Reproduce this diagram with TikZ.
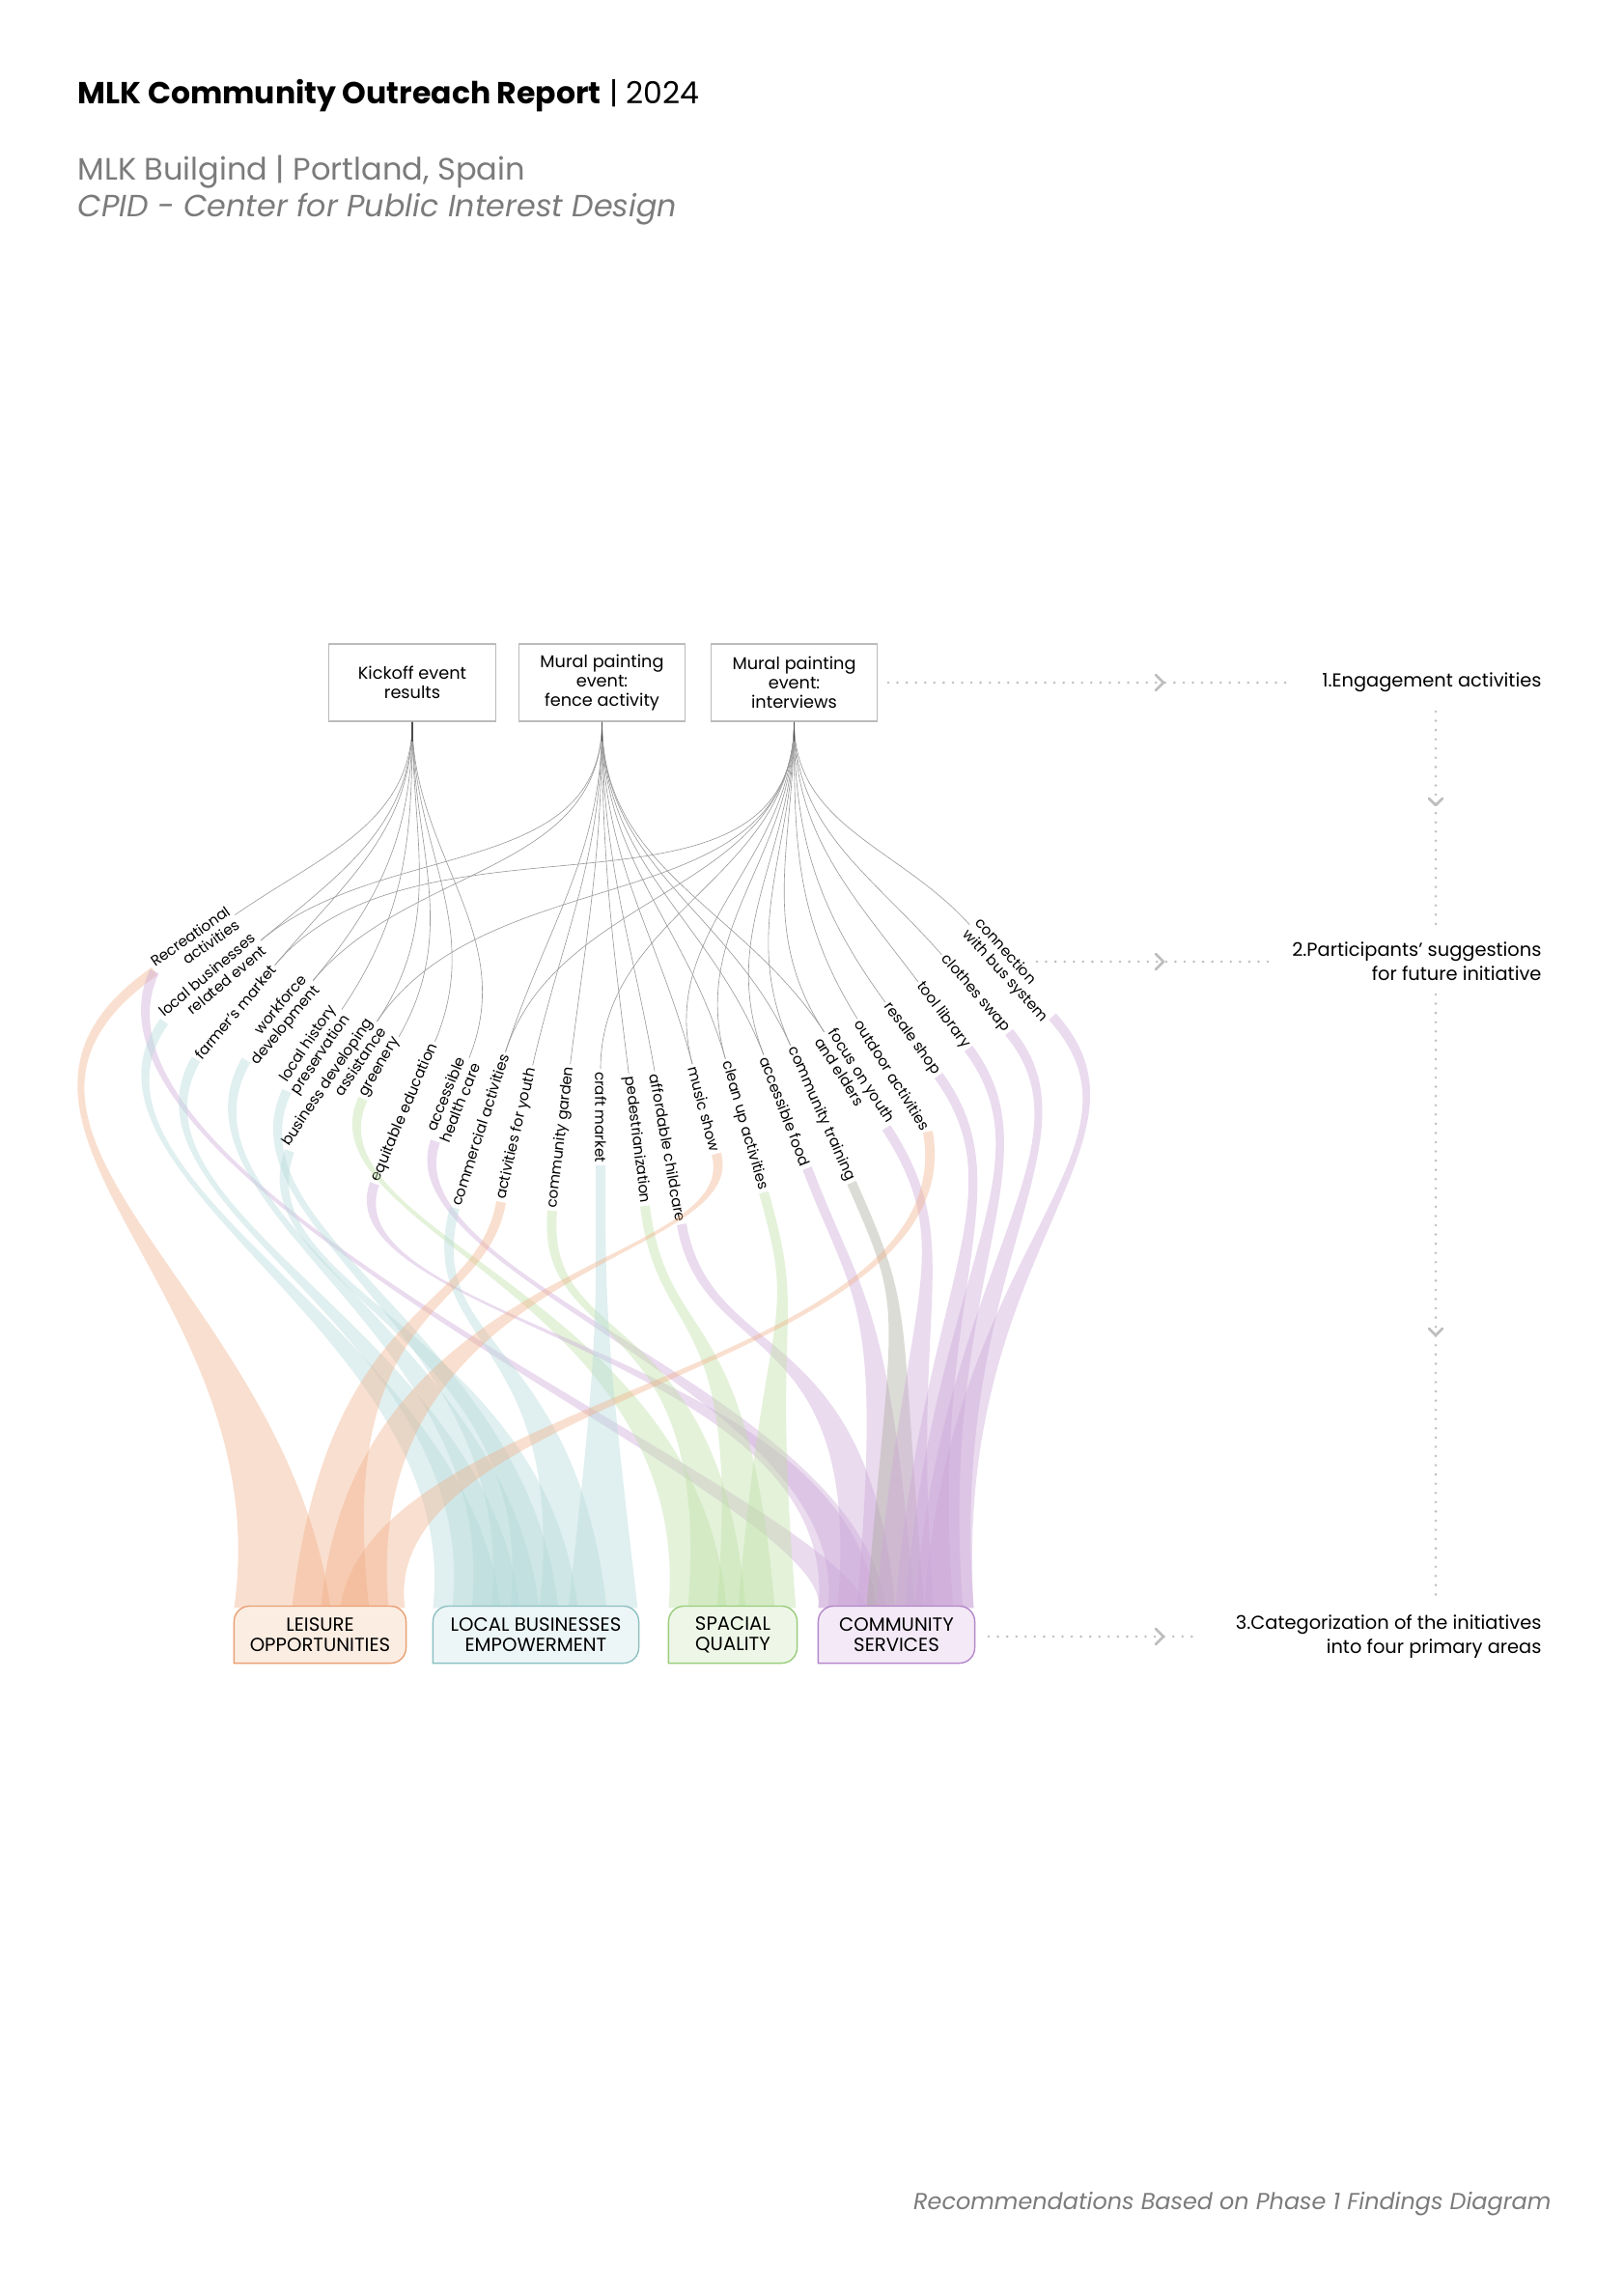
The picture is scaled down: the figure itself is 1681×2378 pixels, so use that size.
\documentclass[tikz,border=0pt]{standalone}
\usepackage{fontspec}
\setmainfont{Poppins}
\newfontfamily\dfont{Poppins}
\usetikzlibrary{calc}

\definecolor{cOr}{HTML}{F2AF87}
\definecolor{cTe}{HTML}{B3D9D9}
\definecolor{cGr}{HTML}{BDE0A3}
\definecolor{cPu}{HTML}{CBA6D8}
\definecolor{cGy}{HTML}{A9A99A}
\definecolor{bOr}{HTML}{E9A074}
\definecolor{bTe}{HTML}{8EC0C3}
\definecolor{bGr}{HTML}{9ACD7C}
\definecolor{bPu}{HTML}{B487C8}
\definecolor{fOr}{HTML}{FCEDE2}
\definecolor{fTe}{HTML}{EDF6F6}
\definecolor{fGr}{HTML}{EEF7E7}
\definecolor{fPu}{HTML}{F4EAF7}
\definecolor{dotgray}{HTML}{BEBEBE}
\definecolor{chevgray}{HTML}{BDBDBD}
\definecolor{linegray}{HTML}{9A9A9A}
\definecolor{boxgray}{HTML}{BBBBBB}
\definecolor{txtgray}{HTML}{7B7B7B}

\newcommand{\evfont}{\dfont\fontsize{6.3pt}{7.2pt}\selectfont}
\newcommand{\lblfont}{\dfont\fontsize{5.4pt}{6.1pt}\selectfont}
\newcommand{\catfont}{\dfont\fontsize{7pt}{7.4pt}\selectfont}
\newcommand{\stepfont}{\dfont\fontsize{6.9pt}{8.9pt}\selectfont}

% band: colour, start anchor, direction, L1, box node, slot a, slot b, L2
\newcommand{\band}[8]{%
 \fill[#1,fill opacity=0.4]
 ($(#2)+(#3-90:5)$)
 .. controls ($(#2)+(#3-90:5)+(#3:#4)$) and ($(#5.north west)+({(#6+#7)/2-3},#8)$) .. ($(#5.north west)+(#6,-2)$)
 -- ($(#5.north west)+(#7,-2)$)
 .. controls ($(#5.north west)+({(#6+#7)/2+3},#8)$) and ($(#2)+(#3+90:5)+(#3:#4)$) .. ($(#2)+(#3+90:5)$) -- cycle;}

\tikzset{
 evbox/.style={draw=boxgray, line width=0.4pt, minimum width=21.6mm, minimum height=10mm, align=center, font=\evfont, inner sep=0pt},
 lblL/.style={anchor=west, align=right, font=\lblfont, inner sep=0.3mm},
 lblR/.style={anchor=east, align=left, font=\lblfont, inner sep=0.3mm},
 fine/.style={draw=linegray, line width=0.22pt},
 stem/.style={draw=black!70, line width=0.4pt},
 dotline/.style={draw=dotgray, line width=1.0pt, dash pattern=on 0pt off 3.4pt, line cap=round},
 chev/.style={draw=chevgray, line width=0.9pt, line cap=round, line join=round},
 catshape/.style={minimum height=7.25mm, inner sep=0pt},
 cattext/.style={align=center, font=\catfont, inner sep=0pt},
 steptext/.style={align=right, font=\stepfont, anchor=east, inner sep=0pt},
}

\begin{document}
\begin{tikzpicture}[x=0.125mm, y=0.125mm]
\useasboundingbox (0,0) rectangle (1681,-2378);
\fill[white] (0,0) rectangle (1681,-2378);

% header
\node[anchor=west, inner sep=0pt] (title) at (80,-99) {\fontsize{11.2pt}{13pt}\selectfont\textbf{MLK Community Outreach Report} | 2024};
\node[anchor=west, inner sep=0pt, text=txtgray] (sub1) at (80,-178) {\fontsize{11.4pt}{13pt}\selectfont MLK Builgind | Portland, Spain};
\node[anchor=west, inner sep=0pt, text=txtgray] (sub2) at (80,-217) {\fontsize{11.3pt}{13pt}\selectfont\itshape CPID - Center for Public Interest Design};
\node[anchor=east, inner sep=0pt, text=txtgray] (foot) at (1607,-2283) {\fontsize{8.5pt}{10pt}\selectfont\itshape Recommendations Based on Phase 1 Findings Diagram};

% category boxes (shapes)
\node[catshape, minimum width=22.125mm] (cL) at (331.5,-1693) {};
\node[catshape, minimum width=26.5mm] (cB) at (555,-1693) {};
\node[catshape, minimum width=16.5mm] (cS) at (759,-1693) {};
\node[catshape, minimum width=20.125mm] (cC) at (928.5,-1693) {};

% labels
\node[lblL,rotate=35] (l1) at (160,-1006) {Recreational\\activities};
\node[lblL,rotate=40] (l2) at (170,-1058) {local businesses\\related event};
\node[lblL,rotate=50] (l3) at (203,-1097) {farmer’s market};
\node[lblL,rotate=50] (l4) at (255,-1098) {workforce\\development};
\node[lblL,rotate=56] (l5) at (297,-1130) {local history\\preservation};
\node[lblL,rotate=56] (l6) at (300,-1192) {business developing\\assistance};
\node[lblL,rotate=60] (l7) at (376,-1138) {greenery};
\node[lblL,rotate=67] (l8) at (388,-1226) {equitable education};
\node[lblL,rotate=68] (l9) at (451,-1182) {accessible\\health care};
\node[lblL,rotate=72] (l10) at (471,-1251) {commercial activities};
\node[lblL,rotate=77] (l11) at (519,-1245) {activities for youth};
\node[lblL,rotate=83] (l12) at (572,-1254) {community garden};
\node[lblR,rotate=-90] (l13) at (622,-1207) {craft market};
\node[lblR,rotate=-83] (l14) at (668,-1249) {pedestrianization};
\node[lblR,rotate=-80] (l15) at (706,-1268) {affordable childcare};
\node[lblR,rotate=-75] (l16) at (742,-1195) {music show};
\node[lblR,rotate=-74] (l17) at (791,-1235) {clean up activities};
\node[lblR,rotate=-69] (l18) at (836,-1210) {accessible food};
\node[lblR,rotate=-66] (l19) at (882,-1225) {community training};
\node[lblR,rotate=-57] (l20) at (918,-1168) {focus on youth\\and elders};
\node[lblR,rotate=-58] (l21) at (961,-1172) {outdoor activities};
\node[lblR,rotate=-54] (l22) at (972,-1114) {resale shop};
\node[lblR,rotate=-53] (l23) at (1003,-1086) {tool library};
\node[lblR,rotate=-49] (l24) at (1045,-1069) {clothes swap};
\node[lblR,rotate=-48] (l25) at (1090,-1053) {connection\\with bus system};

% bands
\band{cOr}{l1.west}{215}{280}{cL}{0}{100}{330}
\band{cPu}{l1.west}{245}{250}{cC}{0}{50}{110}
\band{cTe}{l2.west}{235}{200}{cB}{0}{70}{280}
\band{cTe}{l3.west}{240}{180}{cB}{20}{90}{280}
\band{cTe}{l4.west}{240}{180}{cB}{40}{110}{280}
\band{cTe}{l5.west}{245}{160}{cB}{60}{130}{280}
\band{cTe}{l6.west}{250}{150}{cB}{80}{150}{280}
\band{cGr}{l7.west}{245}{150}{cS}{0}{60}{320}
\band{cPu}{l8.west}{250}{150}{cC}{0}{60}{260}
\band{cPu}{l9.west}{250}{150}{cC}{10}{70}{220}
\band{cTe}{l10.west}{255}{150}{cB}{110}{180}{280}
\band{cOr}{l11.west}{260}{120}{cL}{60}{140}{320}
\band{cGr}{l12.west}{265}{150}{cS}{20}{80}{320}
\band{cTe}{l13.east}{-90}{150}{cB}{140}{212}{280}
\band{cGr}{l14.east}{-83}{150}{cS}{50}{110}{320}
\band{cPu}{l15.east}{-80}{150}{cC}{20}{80}{300}
\band{cOr}{l16.east}{-75}{120}{cL}{90}{160}{360}
\band{cGr}{l17.east}{-74}{150}{cS}{72}{132}{320}
\band{cPu}{l18.east}{-69}{150}{cC}{40}{100}{320}
\band{cGy}{l19.east}{-66}{150}{cC}{50}{110}{320}
\band{cPu}{l20.east}{-57}{150}{cC}{60}{120}{320}
\band{cOr}{l21.east}{-80}{250}{cL}{110}{177}{220}
\band{cPu}{l22.east}{-54}{150}{cC}{80}{140}{330}
\band{cPu}{l23.east}{-53}{150}{cC}{90}{150}{340}
\band{cPu}{l24.east}{-50}{150}{cC}{100}{161}{350}
\band{cPu}{l25.east}{-48}{180}{cC}{110}{161}{370}

% category boxes outline and text
\foreach \c/\f/\d in {cL/fOr/bOr, cB/fTe/bTe, cS/fGr/bGr, cC/fPu/bPu}
  \filldraw[fill=\f, draw=\d, line width=0.5pt] (\c.south west) [rounded corners=2mm] |- (\c.north) -| (\c.south east) [sharp corners] -- cycle;
\node[cattext] (cLt) at (cL) {LEISURE\\OPPORTUNITIES};
\node[cattext] (cBt) at (cB) {LOCAL BUSINESSES\\EMPOWERMENT};
\node[cattext] (cSt) at (cS) {SPACIAL\\QUALITY};
\node[cattext] (cCt) at (cC) {COMMUNITY\\SERVICES};

% event boxes
\node[evbox] (k1) at (427,-707) {Kickoff event\\results};
\node[evbox] (k2) at (623.5,-707) {Mural painting\\event:\\fence activity};
\node[evbox] (k3) at (822.5,-707) {Mural painting\\event:\\interviews};

% thin connectors
\foreach \n/\a in {1/35,2/40,3/50,4/50,5/56,6/56,7/60,8/67,9/68}
  \draw[fine] (k1.south) to[out=-90,in=\a] (l\n.east);
\foreach \n/\a in {2/40,4/50,10/72,11/77,12/83}
  \draw[fine] (k2.south) to[out=-90,in=\a] (l\n.east);
\foreach \n/\a in {14/97,15/100,16/105,17/106,18/111,19/114,20/123}
  \draw[fine] (k2.south) to[out=-90,in=\a] (l\n.west);
\foreach \n/\a in {3/50,6/56,10/72}
  \draw[fine] (k3.south) to[out=-90,in=\a] (l\n.east);
\foreach \n/\a in {13/90,16/105,17/106,18/111,19/114,20/123,21/122,22/126,23/127,24/131,25/132}
  \draw[fine] (k3.south) to[out=-90,in=\a] (l\n.west);
\foreach \k in {k1,k2,k3}
  \draw[stem] (\k.south) -- ++(0,-20);

% steps
\node[steptext] (t1) at (1597,-707) {1.Engagement activities};
\node[steptext] (t2) at (1597,-996) {2.Participants’ suggestions\\for future initiative};
\node[steptext] (t3) at (1597,-1695) {3.Categorization of the initiatives\\into four primary areas};

\coordinate (r1a) at (920,-707);   \coordinate (r1b) at (1340,-707);
\coordinate (r2a) at (1074,-996);  \coordinate (r2b) at (1317,-996);
\coordinate (r3a) at (1024,-1695); \coordinate (r3b) at (1238,-1695);
\coordinate (v1a) at (1487,-737);  \coordinate (v1b) at (1487,-962);
\coordinate (v2a) at (1487,-1030); \coordinate (v2b) at (1487,-1657);
\foreach \a/\b in {r1a/r1b, r2a/r2b, r3a/r3b, v1a/v1b, v2a/v2b}
  \draw[dotline] (\a) -- (\b);
\foreach \y in {-707,-996,-1695}
  \draw[chev] (1197,\y+8) -- (1205,\y) -- (1197,\y-8);
\foreach \y in {-827,-1376}
  \draw[chev] (1480,\y) -- (1487,\y-7) -- (1494,\y);
\end{tikzpicture}
\end{document}
